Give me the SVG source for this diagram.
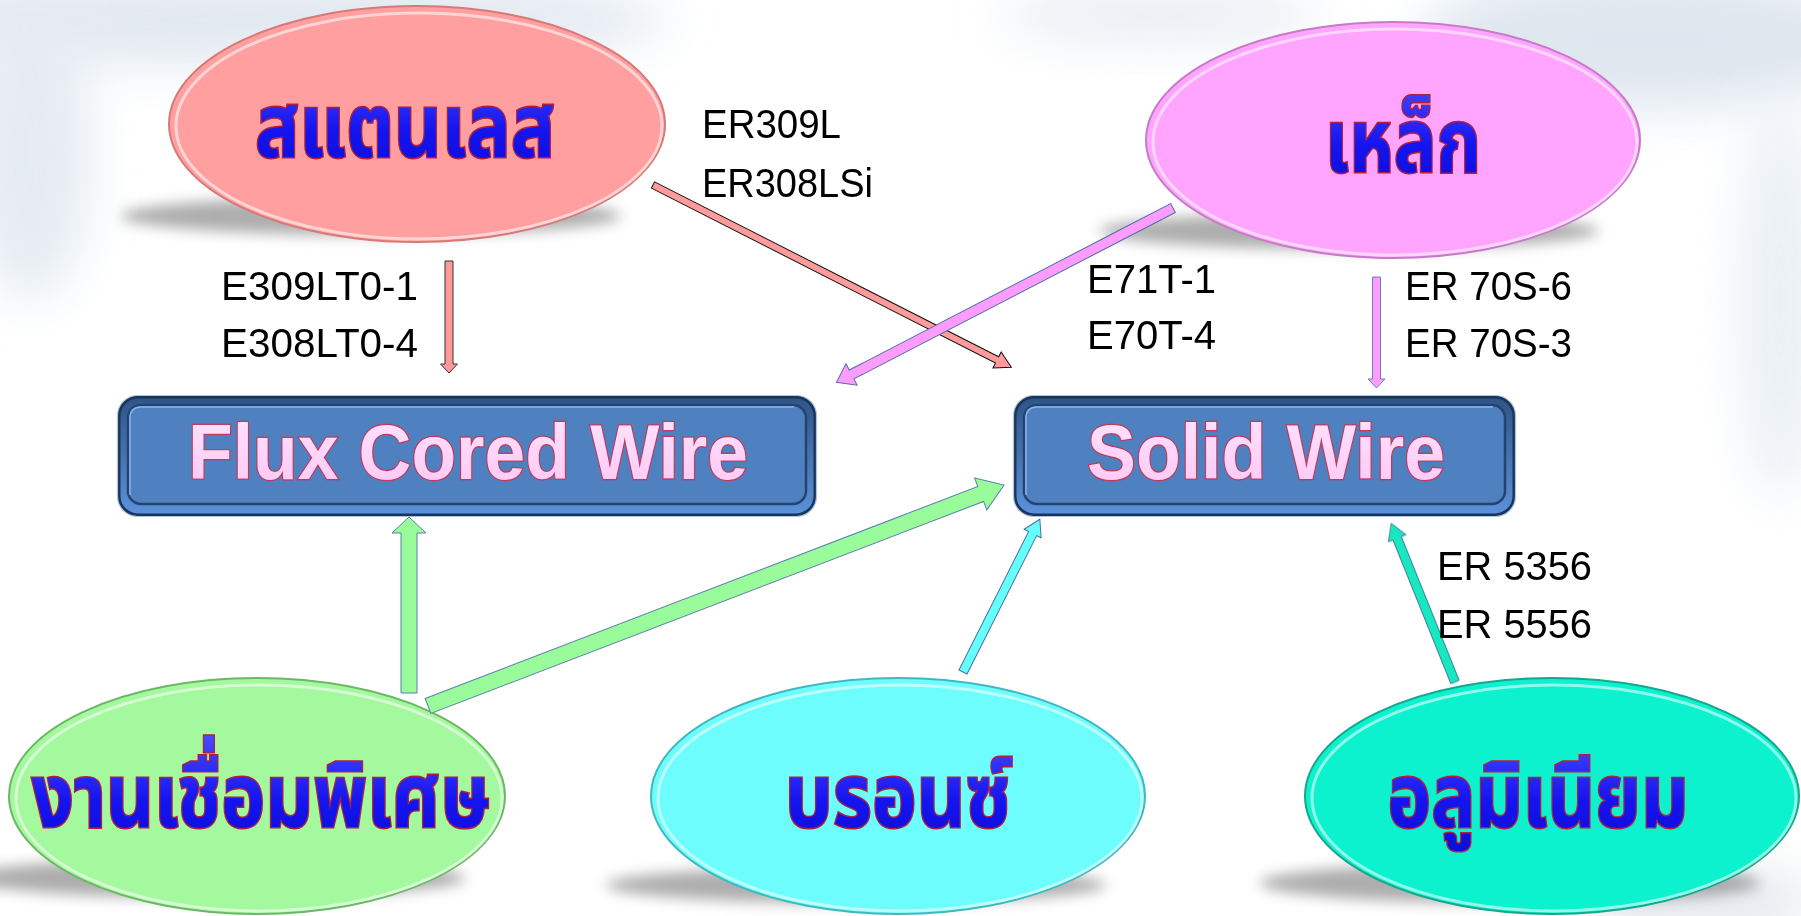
<svg xmlns="http://www.w3.org/2000/svg" width="1801" height="916" viewBox="0 0 1801 916">
<defs>
<style>
.lbl{font-family:"Liberation Sans",Arial,sans-serif;font-size:40px;fill:#000}
.thai{font-family:"Noto Sans Thai","Noto Serif Thai","Tlwg Typo",Loma,"Noto Sans",sans-serif;font-weight:bold;font-size:88px;fill:url(#gBlue);stroke:#B0203C;stroke-width:3;paint-order:stroke fill;text-anchor:middle}
.boxtxt{font-family:"Liberation Sans",Arial,sans-serif;font-weight:bold;font-size:78px;fill:url(#gPinkTxt);stroke:#C03A5A;stroke-width:2.5;paint-order:stroke fill;text-anchor:middle}
.shadow{fill:#6a6a6a;opacity:0.55;filter:url(#blur)}
.rim{fill:none;stroke:#ffffff;stroke-opacity:0.55;stroke-width:3}
.box-outer{fill:url(#gBand);stroke:#1c3556;stroke-width:3}
.box-edge{fill:none;stroke:#a8c6ec;stroke-width:1.2}
.box-inner{fill:#4f80c0;stroke:#24436e;stroke-width:2.5}
.box-hl{fill:none;stroke:#86b6f2;stroke-width:1.5}
</style>
<filter id="blur" x="-20%" y="-100%" width="140%" height="300%"><feGaussianBlur stdDeviation="7"/></filter>
<filter id="bgblur" x="-50%" y="-50%" width="200%" height="200%"><feGaussianBlur stdDeviation="25"/></filter>
<linearGradient id="gBlue" x1="0" y1="0" x2="0" y2="1">
<stop offset="0" stop-color="#4a4aff"/><stop offset="0.5" stop-color="#1414f0"/><stop offset="1" stop-color="#0a0ad0"/>
</linearGradient>
<linearGradient id="gPinkTxt" x1="0" y1="0" x2="0" y2="1">
<stop offset="0" stop-color="#ffe4ff"/><stop offset="1" stop-color="#ffc6f4"/>
</linearGradient>
<linearGradient id="gBand" x1="0" y1="0" x2="0" y2="1">
<stop offset="0" stop-color="#2f5487"/><stop offset="0.5" stop-color="#4673b0"/><stop offset="1" stop-color="#5b92da"/>
</linearGradient>
</defs>

<rect x="0" y="0" width="1801" height="916" fill="#ffffff"/>
<g id="background" opacity="0.55">
<ellipse cx="250" cy="20" rx="420" ry="45" fill="#c9d6e3" filter="url(#bgblur)"/>
<ellipse cx="30" cy="150" rx="60" ry="150" fill="#cfdbe6" filter="url(#bgblur)"/>
<ellipse cx="1650" cy="40" rx="230" ry="70" fill="#c4d3e2" filter="url(#bgblur)"/>
<ellipse cx="1780" cy="300" rx="40" ry="200" fill="#d8e2ec" filter="url(#bgblur)"/>
<ellipse cx="1160" cy="15" rx="160" ry="30" fill="#d7e0ea" filter="url(#bgblur)"/>
<ellipse cx="1700" cy="900" rx="120" ry="30" fill="#c9d2dc" filter="url(#bgblur)"/>
</g>

<g id="node-stainless">
<ellipse class="shadow" cx="371" cy="216" rx="250" ry="19"/>
<ellipse cx="417" cy="124" rx="248" ry="118" fill="#ff9f9f" stroke="#d87878" stroke-width="2"/>
<ellipse class="rim" cx="419" cy="126" rx="243" ry="113"/>
<text class="thai" x="405" y="157" textLength="300" lengthAdjust="spacingAndGlyphs">สแตนเลส</text>
</g>

<g id="node-steel">
<ellipse class="shadow" cx="1349" cy="231" rx="250" ry="18"/>
<ellipse cx="1393" cy="140" rx="247" ry="118" fill="#ffa5ff" stroke="#c77ac7" stroke-width="2"/>
<ellipse class="rim" cx="1395" cy="142" rx="242" ry="113"/>
<text class="thai" x="1403" y="172" textLength="156" lengthAdjust="spacingAndGlyphs">เหล็ก</text>
</g>

<g id="node-flux">
<rect class="box-outer" x="119" y="397" width="696" height="118" rx="19"/>
<rect class="box-edge" x="117.5" y="395.5" width="699" height="121" rx="20"/>
<rect class="box-inner" x="128" y="405" width="678" height="99" rx="13"/>
<path class="box-hl" d="M130,495 V418 Q130,407 141,407 H794"/>
<text class="boxtxt" x="468" y="479" textLength="560" lengthAdjust="spacingAndGlyphs">Flux Cored Wire</text>
</g>

<g id="node-solid">
<rect class="box-outer" x="1015" y="397" width="499" height="118" rx="19"/>
<rect class="box-edge" x="1013.5" y="395.5" width="502" height="121" rx="20"/>
<rect class="box-inner" x="1024" y="405" width="481" height="99" rx="13"/>
<path class="box-hl" d="M1026,495 V418 Q1026,407 1037,407 H1493"/>
<text class="boxtxt" x="1266" y="479" textLength="358" lengthAdjust="spacingAndGlyphs">Solid Wire</text>
</g>

<g id="node-special">
<ellipse class="shadow" cx="215" cy="878" rx="250" ry="20"/>
<ellipse cx="257" cy="796" rx="248" ry="118" fill="#a4f89e" stroke="#6bb866" stroke-width="2"/>
<ellipse class="rim" cx="259" cy="798" rx="243" ry="113"/>
<text class="thai" x="261" y="827" textLength="459" lengthAdjust="spacingAndGlyphs">งานเชื่อมพิเศษ</text>
</g>

<g id="node-bronze">
<ellipse class="shadow" cx="856" cy="885" rx="250" ry="18"/>
<ellipse cx="898" cy="796" rx="247" ry="118" fill="#6efdfd" stroke="#3fb9c0" stroke-width="2"/>
<ellipse class="rim" cx="900" cy="798" rx="242" ry="113"/>
<text class="thai" x="898" y="827" textLength="226" lengthAdjust="spacingAndGlyphs">บรอนซ์</text>
</g>

<g id="node-aluminium">
<ellipse class="shadow" cx="1510" cy="883" rx="250" ry="20"/>
<ellipse cx="1552" cy="796" rx="247" ry="118" fill="#0cf2cf" stroke="#14a88e" stroke-width="2"/>
<ellipse class="rim" cx="1554" cy="798" rx="242" ry="113"/>
<text class="thai" x="1538" y="827" textLength="301" lengthAdjust="spacingAndGlyphs">อลูมิเนียม</text>
</g>

<g id="connectors" stroke-linejoin="miter">
<polygon transform="translate(653,185) rotate(26.95)" points="0,-3.5 386,-3.5 386,-9 402,0 386,9 386,3.5 0,3.5" fill="#ff9b9b" stroke="#111" stroke-width="1"/>
<polygon transform="translate(1173,208) rotate(152.62)" points="0,-5 362,-5 362,-12 379,0 362,12 362,5 0,5" fill="#ff9cff" stroke="#4f6fa5" stroke-width="1"/>
<polygon points="445,261 453,261 453,364 457.5,364 449,373 440.5,364 445,364" fill="#ff9999" stroke="#333" stroke-width="1"/>
<polygon points="1372.5,277 1380.5,277 1380.5,379 1385,379 1376.5,388 1368,379 1372.5,379" fill="#ff9cff" stroke="#6a80b5" stroke-width="1"/>
<polygon points="401,693 417,693 417,533 426,533 409,517 392,533 401,533" fill="#99fb99" stroke="#5b7fb2" stroke-width="1"/>
<polygon transform="translate(428,706) rotate(-20.99)" points="0,-8 592,-8 592,-17 617,0 592,17 592,8 0,8" fill="#99fb99" stroke="#5b7fb2" stroke-width="1"/>
<polygon transform="translate(963,672) rotate(-63.3)" points="0,-4.5 155,-4.5 155,-9.5 171,0 155,9.5 155,4.5 0,4.5" fill="#66ffff" stroke="#4a6fa5" stroke-width="1"/>
<polygon transform="translate(1455,682) rotate(-111.93)" points="0,-4.5 155,-4.5 155,-9.5 171,0 155,9.5 155,4.5 0,4.5" fill="#17e8bf" stroke="#3f7f9f" stroke-width="1"/>
</g>

<g id="labels">
<text class="lbl" x="702" y="138" textLength="139" lengthAdjust="spacingAndGlyphs">ER309L</text>
<text class="lbl" x="702" y="197" textLength="171" lengthAdjust="spacingAndGlyphs">ER308LSi</text>
<text class="lbl" x="221" y="300" textLength="197" lengthAdjust="spacingAndGlyphs">E309LT0-1</text>
<text class="lbl" x="221" y="357" textLength="197" lengthAdjust="spacingAndGlyphs">E308LT0-4</text>
<text class="lbl" x="1087" y="293" textLength="129" lengthAdjust="spacingAndGlyphs">E71T-1</text>
<text class="lbl" x="1087" y="349" textLength="129" lengthAdjust="spacingAndGlyphs">E70T-4</text>
<text class="lbl" x="1405" y="300" textLength="167" lengthAdjust="spacingAndGlyphs">ER 70S-6</text>
<text class="lbl" x="1405" y="357" textLength="167" lengthAdjust="spacingAndGlyphs">ER 70S-3</text>
<text class="lbl" x="1437" y="580" textLength="155" lengthAdjust="spacingAndGlyphs">ER 5356</text>
<text class="lbl" x="1437" y="638" textLength="155" lengthAdjust="spacingAndGlyphs">ER 5556</text>
</g>
</svg>
